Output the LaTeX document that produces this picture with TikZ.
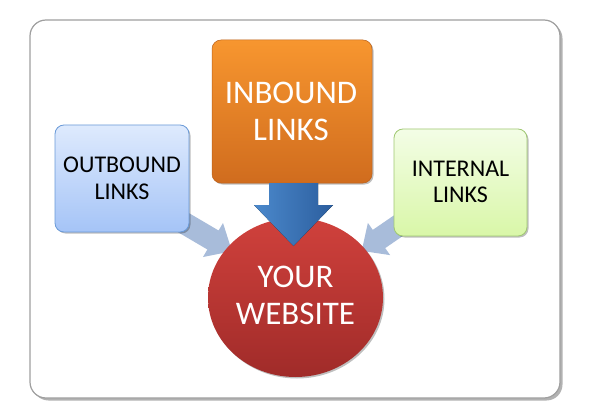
\documentclass[tikz,border=0pt]{standalone}
\usepackage{fontspec}
\setmainfont{Carlito}
\usetikzlibrary{shapes.geometric,shadows}
\definecolor{orTop}{HTML}{F7962F}
\definecolor{orBot}{HTML}{D06C1E}
\definecolor{obTop}{HTML}{DEEAFD}
\definecolor{obBot}{HTML}{A5C4F7}
\definecolor{obLine}{HTML}{6A9AD8}
\definecolor{inTop}{HTML}{F3FDE6}
\definecolor{inBot}{HTML}{D9F7A8}
\definecolor{inLine}{HTML}{A0C872}
\definecolor{lightArrow}{HTML}{A8BCDA}
\definecolor{blueL}{HTML}{4B89CC}
\definecolor{blueR}{HTML}{2C5E9E}
\definecolor{redTop}{HTML}{D0413C}
\definecolor{redBot}{HTML}{A02B29}
\tikzset{
  boxshadow/.style={drop shadow={shadow xshift=1.5pt,shadow yshift=-1.5pt,opacity=0.25,fill=black}},
  sidebox/.style={rounded corners=9pt,line width=0.8pt,boxshadow,inner sep=0pt},
  smalltext/.style={align=center,font=\fontsize{24}{27}\selectfont,text=black,inner sep=0pt,anchor=base},
  bigtext/.style={align=center,font=\fontsize{33}{37}\selectfont,text=white,inner sep=0pt,anchor=base},
  lightarrow/.style={fill=lightArrow},
}
\begin{document}
\begin{tikzpicture}[x=1pt,y=-1pt]
\useasboundingbox (0,0) rectangle (590,420);
% frame
\fill[black,opacity=0.3,rounded corners=16pt] (32.5,22.5) rectangle (562.5,400.5);
\filldraw[fill=white,draw=gray!75,line width=1.2pt,rounded corners=16pt] (30,20) rectangle (560,398);
% light arrows (behind boxes)
\fill[lightarrow] (168.6,226.7) -- (207.4,249.5) -- (203,257) -- (232,251.2) -- (223,223) -- (218.6,230.5) -- (179.8,207.7) -- cycle;
\fill[lightarrow] (422.3,222.6) -- (385.2,248.1) -- (390.1,255.1) -- (361.7,250.9) -- (367.9,222.9) -- (372.8,229.9) -- (409.9,204.4) -- cycle;
% boxes
\node[sidebox,draw=obLine,top color=obTop,bottom color=obBot,minimum width=134pt,minimum height=107pt] (out) at (122,178.5) {};
\node[smalltext] (outt) at (122,199) {OUTBOUND\\LINKS};
\node[sidebox,draw=inLine,top color=inTop,bottom color=inBot,minimum width=133pt,minimum height=107pt] (int) at (460.5,182.5) {};
\node[smalltext] (intt) at (460.5,203) {INTERNAL\\LINKS};
\node[rounded corners=9pt,draw=orBot!90!black,line width=0.5pt,top color=orTop,bottom color=orBot,boxshadow,minimum width=160pt,minimum height=143pt] (inb) at (292,111.5) {};
\node[bigtext] (inbt) at (291,140) {INBOUND\\LINKS};
% website
\node[ellipse,top color=redTop,bottom color=redBot,minimum width=175pt,minimum height=159pt,inner sep=0pt,boxshadow] (web) at (295.5,297.5) {};
\node[bigtext] (webt) at (295.5,324) {YOUR\\WEBSITE};
% blue arrow
\fill[left color=blueL,right color=blueR] (269,183) -- (269,205) -- (254,205) -- (293.5,246) -- (333,205) -- (318,205) -- (318,183) -- cycle;
\end{tikzpicture}
\end{document}
